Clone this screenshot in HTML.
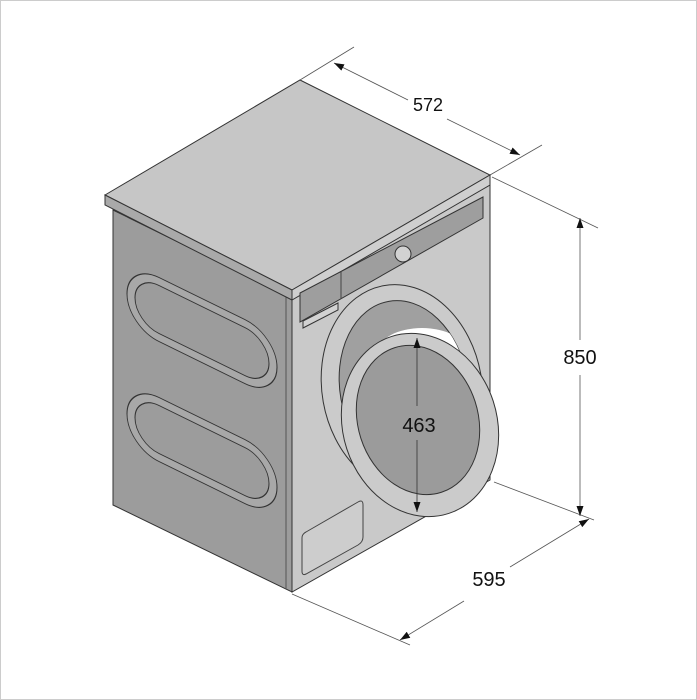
<!DOCTYPE html>
<html><head><style>
html,body{margin:0;padding:0;background:#fff}
svg{display:block}
text{font-family:"Liberation Sans",sans-serif;fill:#111}
</style></head><body>
<svg width="697" height="700" viewBox="0 0 697 700" xmlns="http://www.w3.org/2000/svg">
<rect x="0.5" y="0.5" width="696" height="699" fill="#fff" stroke="#ccc"/>
<defs>
<marker id="a" viewBox="0 0 10 10" refX="10" refY="5" markerWidth="10" markerHeight="10" orient="auto-start-reverse" markerUnits="userSpaceOnUse"><path d="M0,1.5 L10,5 L0,8.5 Z" fill="#111"/></marker>
<clipPath id="op"><ellipse cx="404" cy="388" rx="64" ry="88" transform="rotate(-10 404 388)"/></clipPath>
</defs>
<polygon points="113,210 292,298 292,592 113,505" fill="#9c9c9c" stroke="#333" stroke-width="1"/>
<line x1="286" y1="295" x2="286" y2="589" stroke="#555" stroke-width="1"/>
<g transform="translate(113,0) skewY(26.1)" fill="none" stroke="#333">
<rect x="14" y="255" width="150" height="64" rx="32" fill="#a8a8a8"/>
<rect x="22" y="263" width="134" height="48" rx="24" fill="#9c9c9c"/>
<rect x="14" y="375" width="150" height="64" rx="32" fill="#a8a8a8"/>
<rect x="22" y="383" width="134" height="48" rx="24" fill="#9c9c9c"/>
</g>
<polygon points="292,298 490,185 490,480 292,592" fill="#c9c9c9" stroke="#333" stroke-width="1"/>
<polygon points="105,195 300,80 490,175 292,290" fill="#c6c6c6" stroke="#333"/>
<polygon points="105,195 292,290 292,300 105,205" fill="#a9a9a9" stroke="#333"/>
<polygon points="292,290 490,175 490,185 292,300" fill="#cfcfcf" stroke="#333"/>
<polygon points="300,293 483,197 483,218 300,322" fill="#9e9e9e" stroke="#333"/>
<line x1="341" y1="272" x2="341" y2="299" stroke="#444"/>
<circle cx="403" cy="254" r="8" fill="#d2d2d2" stroke="#333"/>
<polygon points="303,321 338,303 338,310 303,328" fill="#d2d2d2" stroke="#333"/>
<path d="M306,532 L358,502 Q363,499 363,505 L363,537 Q363,542 358,545 L306,574 Q302,576 302,571 L302,538 Q302,534 306,532 Z" fill="#cdcdcd" stroke="#444"/>
<ellipse cx="402" cy="388" rx="80" ry="104" transform="rotate(-10 402 388)" fill="#cbcbcb" stroke="#333"/>
<ellipse cx="404" cy="388" rx="64" ry="88" transform="rotate(-10 404 388)" fill="#a0a0a0" stroke="#333"/>
<ellipse cx="422" cy="352" rx="44" ry="24" fill="#fff" clip-path="url(#op)"/>
<ellipse cx="420" cy="425" rx="77" ry="93" transform="rotate(-18 420 425)" fill="#cbcbcb" stroke="#333"/>
<ellipse cx="418" cy="420" rx="60" ry="76" transform="rotate(-18 418 420)" fill="#9b9b9b" stroke="#333"/>
<line x1="417" y1="338" x2="417" y2="406" stroke="#333" stroke-width="0.8" marker-start="url(#a)"/>
<line x1="417" y1="440" x2="417" y2="512" stroke="#333" stroke-width="0.8" marker-end="url(#a)"/>
<text x="419" y="432" font-size="20" text-anchor="middle">463</text>
<g stroke="#555" stroke-width="0.8" fill="none">
<line x1="300" y1="80" x2="354" y2="47"/>
<line x1="490" y1="175" x2="542" y2="145"/>
<line x1="334" y1="63" x2="408" y2="100" marker-start="url(#a)"/>
<line x1="447" y1="119" x2="520" y2="155" marker-end="url(#a)"/>
<line x1="492" y1="177" x2="598" y2="228"/>
<line x1="494" y1="482" x2="594" y2="520"/>
<line x1="580" y1="218" x2="580" y2="340" marker-start="url(#a)"/>
<line x1="580" y1="375" x2="580" y2="516" marker-end="url(#a)"/>
<line x1="292" y1="594" x2="410" y2="645"/>
<line x1="400" y1="640" x2="464" y2="601" marker-start="url(#a)"/>
<line x1="510" y1="567" x2="589" y2="519" marker-end="url(#a)"/>
</g>
<text x="428" y="111" font-size="18" text-anchor="middle">572</text>
<text x="580" y="364" font-size="20" text-anchor="middle">850</text>
<text x="489" y="586" font-size="20" text-anchor="middle">595</text>
</svg>
</body></html>
